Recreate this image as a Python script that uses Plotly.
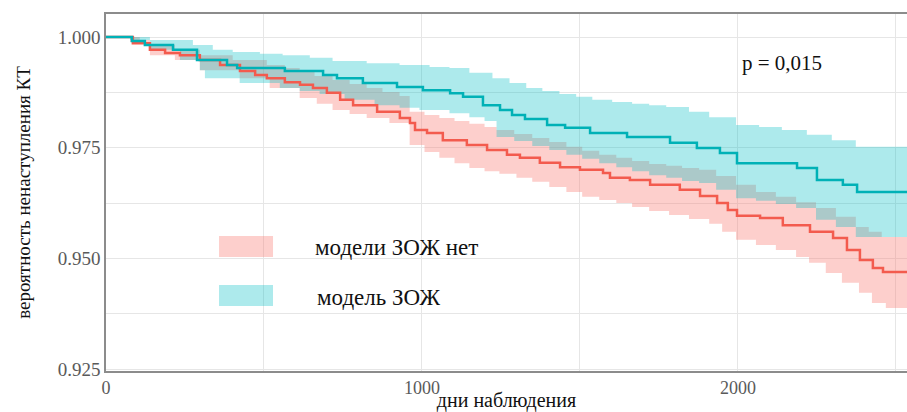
import plotly.graph_objects as go

T_END = 2535

# Kaplan-Meier curves (days, survival)
t_zozh = [0, 82, 123, 212, 288, 383, 415, 566, 687, 731, 813, 921, 1003, 1089, 1130, 1193, 1247, 1285,
          1326, 1396, 1453, 1532, 1649, 1785, 1870, 1943, 1997, 2187, 2250, 2332, 2377, T_END]
s_zozh = [1.0, 0.9991, 0.9982, 0.9971, 0.9948, 0.9937, 0.9930, 0.9923, 0.9914, 0.9907, 0.9896, 0.9887,
          0.9880, 0.9873, 0.9865, 0.9846, 0.9835, 0.9824, 0.9815, 0.9801, 0.9795, 0.9783, 0.9774, 0.9761,
          0.9749, 0.9738, 0.9715, 0.9704, 0.9677, 0.9666, 0.9650, 0.9650]

t_no = [0, 85, 139, 187, 234, 297, 361, 424, 472, 509, 566, 614, 655, 699, 741, 782, 858, 930, 962, 978,
        1016, 1066, 1142, 1206, 1269, 1310, 1373, 1437, 1500, 1573, 1595, 1658, 1722, 1816, 1880, 1934,
        1968, 1997, 2070, 2142, 2228, 2301, 2345, 2386, 2427, 2459, T_END]
s_no = [1.0, 0.9986, 0.9971, 0.9964, 0.9959, 0.9948, 0.9937, 0.9923, 0.9914, 0.9907, 0.9898, 0.9892,
        0.9885, 0.9874, 0.9858, 0.9846, 0.9831, 0.9817, 0.9806, 0.9790, 0.9783, 0.9767, 0.9756, 0.9745,
        0.9734, 0.9727, 0.9716, 0.9706, 0.9700, 0.9693, 0.9682, 0.9677, 0.9666, 0.9655, 0.9641, 0.9625,
        0.9609, 0.9596, 0.9591, 0.9575, 0.9560, 0.9546, 0.9519, 0.9496, 0.9478, 0.9469, 0.9469]

# confidence bands ("модель ЗОЖ")
t_zozh_up = [0, 139, 275, 338, 401, 487, 559, 645, 717, 825, 929, 1024, 1087, 1150, 1223, 1277, 1330, 1381,
             1435, 1488, 1539, 1602, 1665, 1719, 1773, 1845, 1909, 1994, 2067, 2139, 2218, 2297, 2373, T_END]
v_zozh_up = [1.0, 0.9993, 0.9982, 0.9971, 0.9966, 0.9962, 0.9959, 0.9953, 0.9946, 0.9941, 0.9937, 0.9932,
             0.9930, 0.9919, 0.9907, 0.9896, 0.9885, 0.9878, 0.9871, 0.9865, 0.9858, 0.9853, 0.9849, 0.9846,
             0.9842, 0.9831, 0.9819, 0.9801, 0.9797, 0.9790, 0.9779, 0.9767, 0.9752, 0.9752]
t_zozh_lo = [0, 76, 139, 234, 297, 313, 423, 550, 613, 676, 755, 850, 929, 992, 1087, 1150, 1198, 1236,
             1292, 1349, 1403, 1457, 1507, 1561, 1615, 1665, 1719, 1773, 1823, 1877, 1931, 1994, 2057, 2120,
             2184, 2247, 2310, 2373, T_END]
v_zozh_lo = [1.0, 0.9993, 0.9971, 0.9948, 0.9925, 0.9907, 0.9896, 0.9885, 0.9878, 0.9871, 0.9858, 0.9846,
             0.9840, 0.9835, 0.9828, 0.9819, 0.9810, 0.9774, 0.9765, 0.9754, 0.9745, 0.9734, 0.9725, 0.9715,
             0.9706, 0.9697, 0.9688, 0.9682, 0.9675, 0.9670, 0.9655, 0.9636, 0.9630, 0.9623, 0.9614, 0.9587,
             0.9571, 0.9548, 0.9548]

# confidence bands ("модели ЗОЖ нет")
t_no_up = [0, 107, 139, 218, 297, 401, 509, 566, 613, 660, 717, 771, 825, 875, 929, 961, 1008, 1055, 1103,
           1150, 1198, 1236, 1292, 1349, 1403, 1457, 1507, 1561, 1615, 1665, 1719, 1773, 1823, 1877, 1931,
           1994, 2057, 2120, 2184, 2247, 2310, 2373, 2414, 2455, T_END]
v_no_up = [1.0, 0.9993, 0.9982, 0.9971, 0.9959, 0.9948, 0.9937, 0.9930, 0.9921, 0.9912, 0.9903, 0.9894,
           0.9885, 0.9876, 0.9867, 0.9831, 0.9824, 0.9817, 0.9810, 0.9804, 0.9797, 0.9790, 0.9781, 0.9772,
           0.9763, 0.9752, 0.9743, 0.9734, 0.9727, 0.9720, 0.9713, 0.9709, 0.9704, 0.9700, 0.9686, 0.9666,
           0.9650, 0.9639, 0.9627, 0.9614, 0.9594, 0.9571, 0.9560, 0.9548, 0.9548]
t_no_lo = [0, 76, 139, 218, 297, 423, 518, 613, 667, 717, 771, 825, 897, 961, 1008, 1055, 1103, 1150, 1198,
           1245, 1299, 1349, 1403, 1457, 1507, 1561, 1615, 1665, 1719, 1782, 1845, 1909, 1950, 1994, 2057,
           2120, 2184, 2225, 2278, 2329, 2383, 2424, 2468, T_END]
v_no_lo = [1.0, 0.9989, 0.9959, 0.9948, 0.9925, 0.9907, 0.9885, 0.9862, 0.9849, 0.9835, 0.9826, 0.9817,
           0.9806, 0.9756, 0.9740, 0.9727, 0.9715, 0.9704, 0.9697, 0.9691, 0.9682, 0.9673, 0.9661, 0.9650,
           0.9639, 0.9632, 0.9625, 0.9616, 0.9607, 0.9598, 0.9589, 0.9578, 0.9560, 0.9542, 0.9530, 0.9519,
           0.9503, 0.9490, 0.9467, 0.9445, 0.9422, 0.9399, 0.9388, 0.9388]

labels = ["модели ЗОЖ нет", "модель ЗОЖ"]
p_text = "p = 0,015"
x_ticks = [0, 1000, 2000]
y_ticks = [0.925, 0.950, 0.975, 1.000]

RED_LINE = "#F35B4E"
CYAN_LINE = "#00B1B6"
RED_FILL = "rgba(248,118,109,0.35)"
CYAN_FILL = "rgba(0,191,196,0.32)"
FONT = "Liberation Serif, Times New Roman, serif"


def step_path(t, v):
    """Expand step-function data into an explicit staircase (hv) path."""
    xs, ys = [t[0]], [v[0]]
    for i in range(1, len(t)):
        xs += [t[i], t[i]]
        ys += [v[i - 1], v[i]]
    return xs, ys


fig = go.Figure()


def add_band(t_lo, v_lo, t_up, v_up, color):
    xl, yl = step_path(t_lo, v_lo)
    xu, yu = step_path(t_up, v_up)
    fig.add_trace(go.Scatter(x=xu + xl[::-1], y=yu + yl[::-1], mode="lines", line=dict(width=0),
                             fill="toself", fillcolor=color, showlegend=False, hoverinfo="skip"))


add_band(t_no_lo, v_no_lo, t_no_up, v_no_up, RED_FILL)
add_band(t_zozh_lo, v_zozh_lo, t_zozh_up, v_zozh_up, CYAN_FILL)

# survival lines
fig.add_trace(go.Scatter(x=t_no, y=s_no, mode="lines", line=dict(color=RED_LINE, width=2.5, shape="hv"),
                         name=labels[0], showlegend=False))
fig.add_trace(go.Scatter(x=t_zozh, y=s_zozh, mode="lines", line=dict(color=CYAN_LINE, width=2.5, shape="hv"),
                         name=labels[1], showlegend=False))

# legend keys (manual)
fig.add_shape(type="rect", xref="paper", yref="paper", x0=0.1411, x1=0.2085, y0=0.319, y1=0.378,
              fillcolor=RED_FILL, line=dict(width=0))
fig.add_shape(type="rect", xref="paper", yref="paper", x0=0.1411, x1=0.2085, y0=0.182, y1=0.241,
              fillcolor=CYAN_FILL, line=dict(width=0))
fig.add_annotation(xref="paper", yref="paper", x=0.2584, y=0.347, text=labels[0], showarrow=False,
                   xanchor="left", yanchor="middle", font=dict(family=FONT, size=23, color="#111"))
fig.add_annotation(xref="paper", yref="paper", x=0.2610, y=0.207, text=labels[1], showarrow=False,
                   xanchor="left", yanchor="middle", font=dict(family=FONT, size=23, color="#111"))
fig.add_annotation(xref="paper", yref="paper", x=0.7915, y=0.863, text=p_text, showarrow=False,
                   xanchor="left", yanchor="middle", font=dict(family=FONT, size=21, color="#111"))

fig.update_layout(
    width=907, height=412,
    margin=dict(l=106, r=0, t=14, b=41),
    plot_bgcolor="white", paper_bgcolor="white",
    font=dict(family=FONT),
    xaxis=dict(range=[0, T_END], tickvals=x_ticks, ticktext=[str(v) for v in x_ticks],
               showgrid=True, gridcolor="#E6E6E6", gridwidth=1,
               minor=dict(dtick=500, tick0=0, showgrid=True, gridcolor="#E6E6E6", gridwidth=1),
               showline=True, linecolor="#8C8C8C", linewidth=1.5, mirror=True, ticks="",
               zeroline=False, automargin=False,
               tickfont=dict(family=FONT, size=18, color="#5A5A5A"),
               title=dict(text="дни наблюдения", font=dict(family=FONT, size=20, color="#111"), standoff=2)),
    yaxis=dict(range=[0.92455, 1.0052], tickvals=y_ticks, tickformat=".3f",
               showgrid=True, gridcolor="#E6E6E6", gridwidth=1,
               minor=dict(dtick=0.0125, tick0=0.925, showgrid=True, gridcolor="#E6E6E6", gridwidth=1),
               showline=True, linecolor="#8C8C8C", linewidth=1.5, ticks="",
               zeroline=False, automargin=False,
               tickfont=dict(family=FONT, size=19, color="#5A5A5A"),
               title=dict(text="вероятность ненаступления КТ", font=dict(family=FONT, size=19, color="#111"),
                          standoff=22)),
)

fig.write_html("out.html", config={"displayModeBar": False},
               post_script="document.body.style.margin='0';")
